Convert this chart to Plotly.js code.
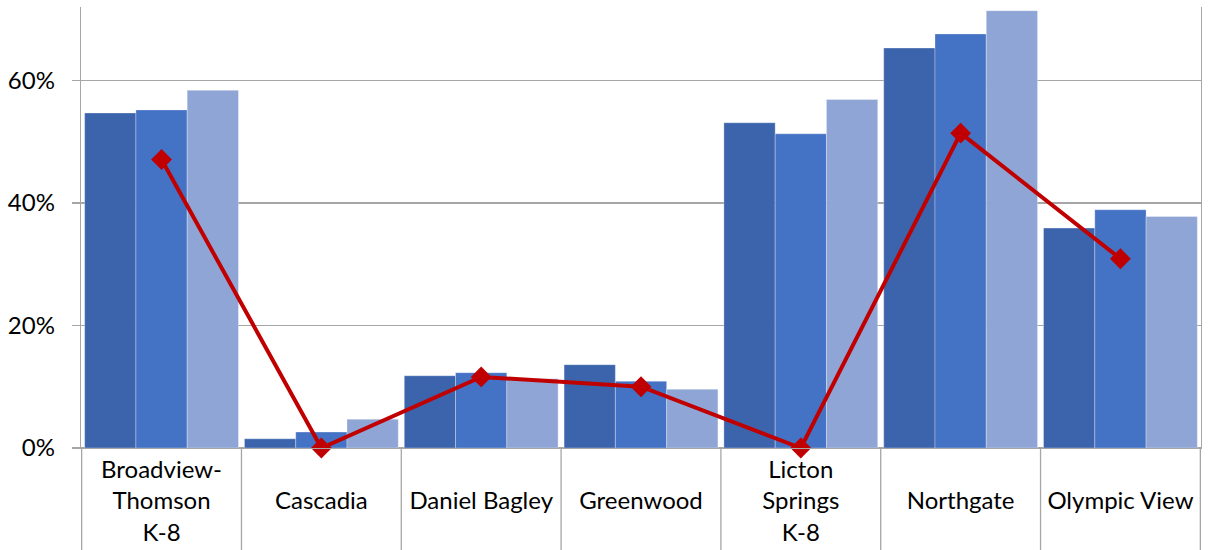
<!DOCTYPE html>
<html>
<head>
<meta charset="utf-8">
<script src="https://cdn.plot.ly/plotly-3.0.1.min.js"></script>
<style>html,body{margin:0;padding:0;background:#fff;}#chart{width:1211px;height:550px;}</style>
</head>
<body>
<div id="chart"></div>
<script>
// Categories (schools)
const categories = ["Broadview-Thomson K-8", "Cascadia", "Daniel Bagley", "Greenwood", "Licton Springs K-8", "Northgate", "Olympic View"];
// Tick labels as drawn (line breaks)
const tickLabels = ["Broadview-<br>Thomson<br>K-8", "<br>Cascadia", "<br>Daniel Bagley", "<br>Greenwood", "Licton<br>Springs<br>K-8", "<br>Northgate", "<br>Olympic View"];
// Bar series (percent)
const series1 = [54.7, 1.5, 11.8, 13.6, 53.1, 65.3, 35.9];
const series2 = [55.2, 2.6, 12.3, 10.9, 51.3, 67.6, 38.9];
const series3 = [58.4, 4.7, 11.3, 9.6, 56.9, 71.4, 37.8];
// Line series (percent)
const lineSeries = [47.1, 0, 11.6, 10.0, 0, 51.4, 30.9];
// Y ticks
const yTicks = [0, 20, 40, 60];
const yTickLabels = ["0%", "20%", "40%", "60%"];

const barLine = {color: 'rgba(255,255,255,0.3)', width: 1};
const traces = [
  {type: 'bar', name: 'Series 1', x: categories, y: series1, marker: {color: '#3C64AC', line: barLine}, hoverinfo: 'skip'},
  {type: 'bar', name: 'Series 2', x: categories, y: series2, marker: {color: '#4472C4', line: barLine}, hoverinfo: 'skip'},
  {type: 'bar', name: 'Series 3', x: categories, y: series3, marker: {color: '#8FA5D5', line: barLine}, hoverinfo: 'skip'},
  {type: 'scatter', mode: 'lines+markers', name: 'Line', x: categories, y: lineSeries, cliponaxis: false,
   line: {color: '#C00000', width: 4}, marker: {symbol: 'diamond', size: 16, color: '#C00000'}, hoverinfo: 'skip'}
];

const plotH = 550 - 7 - 102;
const shapes = [];
for (let i = 0; i <= categories.length; i++) {
  shapes.push({type: 'line', xref: 'x', yref: 'paper', x0: i - 0.5, x1: i - 0.5, y0: 0, y1: -102 / plotH,
    line: {color: '#A6A6A6', width: 1.3}, layer: 'above'});
}

const layout = {
  width: 1211, height: 550,
  margin: {l: 81, r: 10, t: 7, b: 102, pad: 0},
  paper_bgcolor: '#ffffff', plot_bgcolor: '#ffffff',
  showlegend: false,
  barmode: 'group', bargap: 0.0375, bargroupgap: 0,
  font: {family: 'Lato, "Open Sans", sans-serif', size: 24, color: '#000000'},
  xaxis: {
    type: 'category', tickvals: categories, ticktext: tickLabels,
    ticks: '', showgrid: false, showline: true, linecolor: '#A6A6A6', linewidth: 1.3,
    tickfont: {size: 24, color: '#000000'}, ticklabelstandoff: 0, zeroline: false, fixedrange: true
  },
  yaxis: {
    range: [0, 72], tickmode: 'array', tickvals: yTicks, ticktext: yTickLabels,
    showgrid: true, gridcolor: '#A6A6A6', gridwidth: 1.3,
    zeroline: true, zerolinecolor: '#A6A6A6', zerolinewidth: 1.3,
    showline: true, linecolor: '#A6A6A6', linewidth: 1.3, mirror: true,
    ticks: 'outside', ticklen: 8, tickcolor: '#A6A6A6', tickwidth: 1.3,
    tickfont: {size: 24, color: '#000000'}, ticklabelstandoff: 12, fixedrange: true
  },
  shapes: shapes
};

Plotly.newPlot('chart', traces, layout, {displayModeBar: false, staticPlot: true});
</script>
</body>
</html>
